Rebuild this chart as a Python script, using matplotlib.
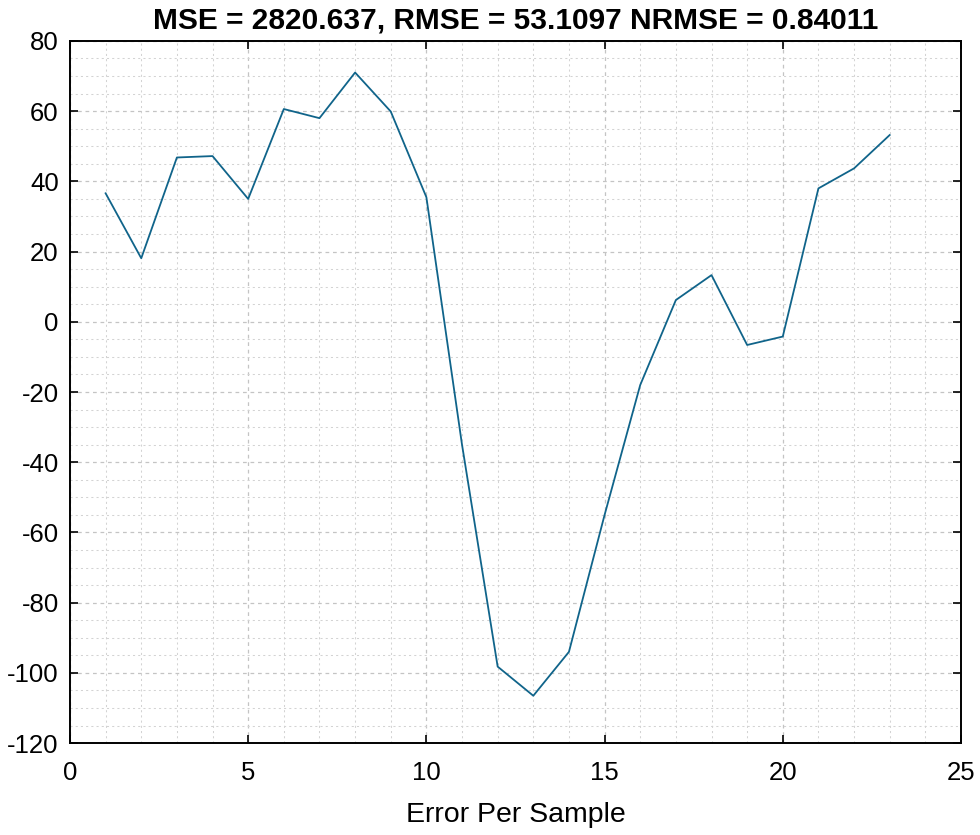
import matplotlib.pyplot as plt
from matplotlib.ticker import MultipleLocator

# error per sample
sample = list(range(1, 24))
error = [36.6, 18.1, 46.8, 47.2, 35.0, 60.6, 58.0, 71.0, 59.9, 35.5,
         -35.0, -98.2, -106.5, -94.0, -55.0, -18.0, 6.2, 13.3, -6.6, -4.2,
         38.0, 43.7, 53.2]

title = "MSE = 2820.637, RMSE = 53.1097 NRMSE = 0.84011"
xlabel = "Error Per Sample"

plt.rcParams['font.family'] = ['Liberation Sans', 'DejaVu Sans']
plt.rcParams['axes.unicode_minus'] = False   # matlab-style hyphen

fig = plt.figure(figsize=(9.8, 8.35), dpi=100)
ax = fig.add_axes([0.0714, 0.110, 0.9092, 0.841])

ax.plot(sample, error, color='#10648a', lw=1.3, zorder=3)

ax.set_xlim(0, 25)
ax.set_ylim(-120, 80)
ax.xaxis.set_major_locator(MultipleLocator(5))
ax.xaxis.set_minor_locator(MultipleLocator(1))
ax.yaxis.set_major_locator(MultipleLocator(20))
ax.yaxis.set_minor_locator(MultipleLocator(5))

ax.grid(which='major', color='#c4c4c4', ls=(0, (3, 3)), lw=0.9)
ax.grid(which='minor', color='#d3d3d3', ls=(0, (2, 3)), lw=0.75)
ax.set_axisbelow(True)

ax.tick_params(which='major', direction='in', length=6, width=1.2,
               top=True, right=True, labelsize=18.5, colors='black')
ax.tick_params(axis='x', pad=13)
ax.tick_params(axis='y', pad=8)
ax.tick_params(which='minor', length=0)
for s in ax.spines.values():
    s.set_linewidth(1.4)

ax.set_title(title, fontsize=21.5, fontweight='bold', pad=9)
ax.set_xlabel(xlabel, fontsize=20.5, labelpad=12)

plt.savefig("out.png", dpi=100)
